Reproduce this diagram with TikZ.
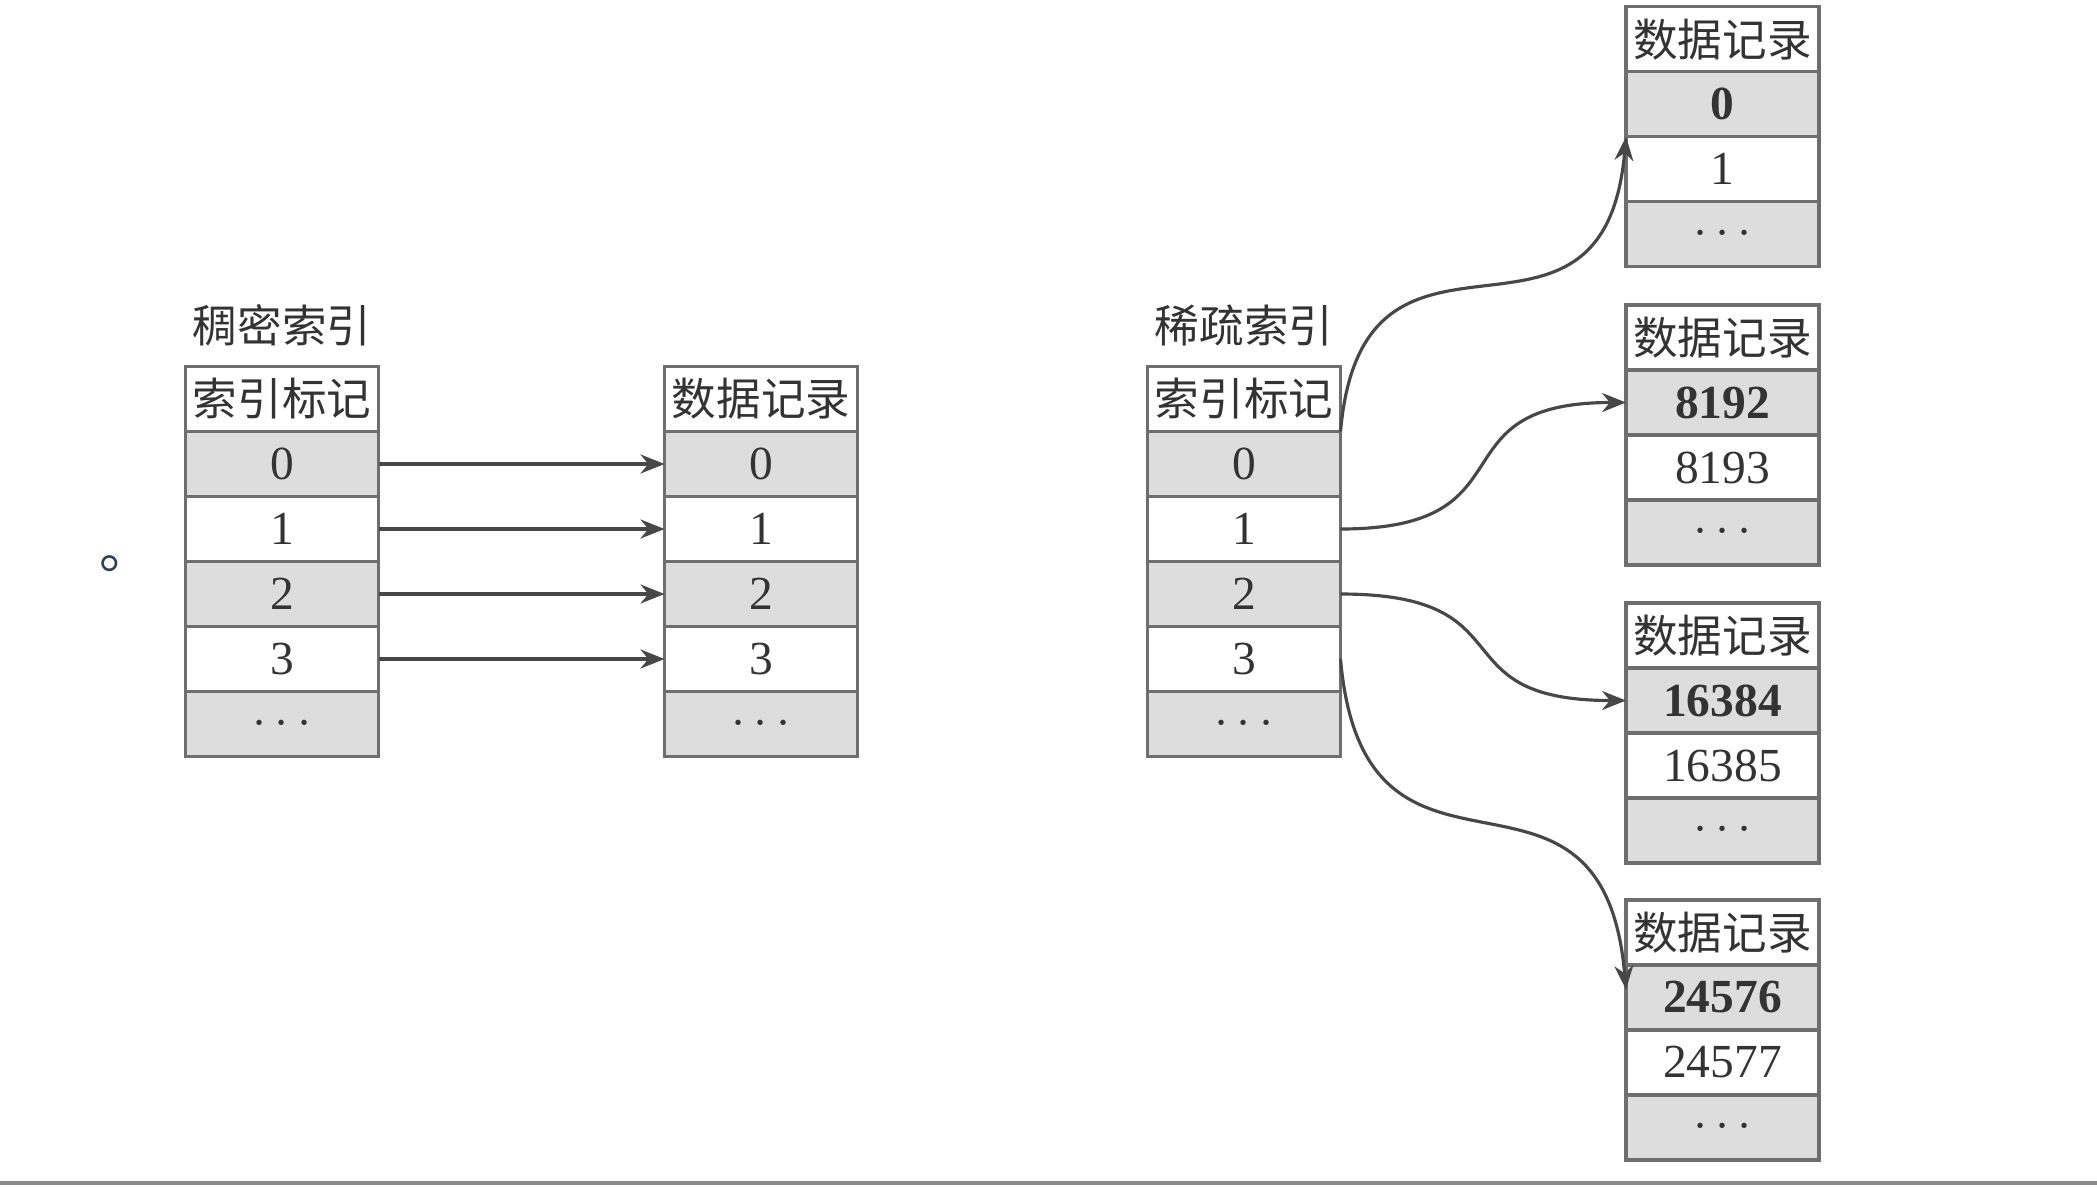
\documentclass[tikz,border=0pt]{standalone}
\usepackage{fontspec}
\setmainfont{Liberation Serif}
\newfontfamily\cjk[Scale=0.94]{Noto Sans CJK SC}
\usetikzlibrary{arrows.meta, positioning}
\definecolor{cellgray}{HTML}{DDDDDD}
\definecolor{linegray}{HTML}{6E6E6E}
\definecolor{textgray}{HTML}{333333}
\definecolor{arrowgray}{HTML}{474747}
\definecolor{markblue}{HTML}{2E4057}
\tikzset{
    cell/.style = {rectangle, minimum width=1.93cm, minimum height=0.65cm, inner sep=0pt, outer sep=0pt, text centered, draw=linegray, line width=1pt, text=textgray},
    shaded/.style = {cell, fill=cellgray},
    plain/.style = {cell, fill=white},
    title/.style = {inner sep=0pt, text=textgray},
    arrow/.style = {draw=arrowgray, line width=0.9pt, -{Stealth[length=0.24cm, width=0.19cm]}}
}

\begin{document}
\begin{tikzpicture}[node distance=0pt, font=\fontsize{13.5}{16}\selectfont]
\useasboundingbox (0,0) rectangle (20.97,-11.86);

% --- DENSE INDEX ---
\node (dhead) [plain] at (2.82,-3.99) {\cjk 索引标记};
\node (d0) [shaded, below=of dhead] {0};
\node (d1) [plain, below=of d0] {1};
\node (d2) [shaded, below=of d1] {2};
\node (d3) [plain, below=of d2] {3};
\node (ddots) [shaded, below=of d3] {$\cdots$};
\node (dlabel) [title, above=0.2cm of dhead] {\cjk 稠密索引};

\node (rhead) [plain] at (7.61,-3.99) {\cjk 数据记录};
\node (r0) [shaded, below=of rhead] {0};
\node (r1) [plain, below=of r0] {1};
\node (r2) [shaded, below=of r1] {2};
\node (r3) [plain, below=of r2] {3};
\node (rdots) [shaded, below=of r3] {$\cdots$};

% --- SPARSE INDEX ---
\node (shead) [plain] at (12.44,-3.99) {\cjk 索引标记};
\node (s0) [shaded, below=of shead] {0};
\node (s1) [plain, below=of s0] {1};
\node (s2) [shaded, below=of s1] {2};
\node (s3) [plain, below=of s2] {3};
\node (sdots) [shaded, below=of s3] {$\cdots$};
\node (slabel) [title, above=0.2cm of shead] {\cjk 稀疏索引};

% --- DATA PAGES ---
\node (p1head) [plain] at (17.225,-0.392) {\cjk 数据记录};
\node (p1first) [shaded, below=of p1head] {\textbf{0}};
\node (p1next) [plain, below=of p1first] {1};
\node (p1dots) [shaded, below=of p1next] {$\cdots$};

\node (p2head) [plain] at (17.225,-3.375) {\cjk 数据记录};
\node (p2first) [shaded, below=of p2head] {\textbf{8192}};
\node (p2next) [plain, below=of p2first] {8193};
\node (p2dots) [shaded, below=of p2next] {$\cdots$};

\node (p3head) [plain] at (17.225,-6.355) {\cjk 数据记录};
\node (p3first) [shaded, below=of p3head] {\textbf{16384}};
\node (p3next) [plain, below=of p3first] {16385};
\node (p3dots) [shaded, below=of p3next] {$\cdots$};

\node (p4head) [plain] at (17.225,-9.325) {\cjk 数据记录};
\node (p4first) [shaded, below=of p4head] {\textbf{24576}};
\node (p4next) [plain, below=of p4first] {24577};
\node (p4dots) [shaded, below=of p4next] {$\cdots$};

% stray full stop
\node (stop) [inner sep=0pt, anchor=base west, text=markblue, font=\fontsize{16}{18}\selectfont] at (0.99,-5.68) {\cjk 。};

% --- CONNECTIONS ---

% Dense: one arrow per record
\draw [arrow] (d0) -- (r0);
\draw [arrow] (d1) -- (r1);
\draw [arrow] (d2) -- (r2);
\draw [arrow] (d3) -- (r3);

% Sparse: one arrow per page
\draw [arrow] (s0.north east) to[out=85, in=-95, looseness=1.6] (p1first.south west);
\draw [arrow] (s1.east) to[out=0, in=180, looseness=1.6] (p2first.west);
\draw [arrow] (s2.east) to[out=0, in=180, looseness=1.6] (p3first.west);
\draw [arrow] (s3.east) to[out=-85, in=95, looseness=1.6] ([yshift=0.08cm]p4first.west);

% bottom rule
\draw [linegray!80, line width=1pt] (0,-11.83) -- (20.97,-11.83);

\end{tikzpicture}
\end{document}
